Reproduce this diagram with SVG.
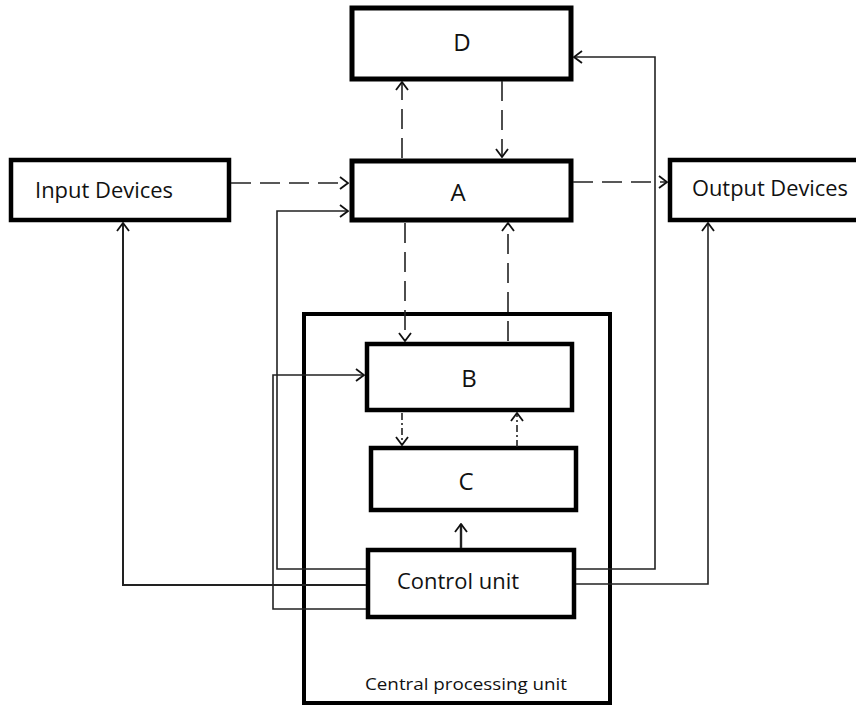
<svg xmlns="http://www.w3.org/2000/svg" width="856" height="707" viewBox="0 0 856 707">
<style>
.box{fill:#fff;stroke:#000;stroke-width:4.5}
.lbl{font-family:"Open Sans","Liberation Sans",sans-serif;font-size:22px;fill:#111}
.big{font-family:"Open Sans","Liberation Sans",sans-serif;font-size:24px;fill:#111;text-anchor:middle}
.small{font-family:"Open Sans","Liberation Sans",sans-serif;font-size:16px;fill:#111}
.c{fill:none;stroke:#222;stroke-width:1.6}
.d{stroke-dasharray:20,9}
.dd{stroke-dasharray:7,3,2,3}
</style>
<defs>
<marker id="ah" markerWidth="10" markerHeight="14" refX="9" refY="7" orient="auto" markerUnits="userSpaceOnUse">
<path d="M1,1 L9,7 L1,13" fill="none" stroke="#111" stroke-width="1.8"/>
</marker>
</defs>
<rect x="0" y="0" width="856" height="707" fill="#fff"/>
<g id="cpu"><rect class="box" x="304" y="314" width="306" height="389" style="stroke-width:4"/><text class="small" x="365" y="690" textLength="202" lengthAdjust="spacingAndGlyphs">Central processing unit</text></g>
<g id="nodeD"><rect class="box" x="352" y="8" width="219" height="71" style="stroke-width:5"/><text class="big" x="462" y="51">D</text></g>
<g id="nodeA"><rect class="box" x="352" y="161" width="219" height="59" style="stroke-width:5"/><text class="big" x="458" y="201">A</text></g>
<g id="input"><rect class="box" x="11" y="160" width="218" height="60"/><text class="lbl" x="35" y="198" textLength="138" lengthAdjust="spacingAndGlyphs">Input Devices</text></g>
<g id="output"><rect class="box" x="670" y="160" width="200" height="60"/><text class="lbl" x="692" y="196" textLength="156" lengthAdjust="spacingAndGlyphs">Output Devices</text></g>
<g id="nodeB"><rect class="box" x="367" y="344" width="205" height="66"/><text class="big" x="469" y="387">B</text></g>
<g id="nodeC"><rect class="box" x="371" y="448" width="205" height="62"/><text class="big" x="466" y="490">C</text></g>
<g id="control"><rect class="box" x="368" y="550" width="206" height="67"/><text class="lbl" x="397" y="589" textLength="122" lengthAdjust="spacingAndGlyphs">Control unit</text></g>
<g id="connectors">
<path class="c d" d="M402,158 V82" marker-end="url(#ah)"/>
<path class="c d" d="M502,81 V157" marker-end="url(#ah)"/>
<path class="c d" d="M231,183 H348" marker-end="url(#ah)"/>
<path class="c d" d="M573,182 H667" marker-end="url(#ah)"/>
<path class="c d" d="M405,223 V341" marker-end="url(#ah)"/>
<path class="c d" d="M508,341 V223" marker-end="url(#ah)"/>
<path class="c dd" d="M402,413 V445" marker-end="url(#ah)"/>
<path class="c dd" d="M517,447 V413" marker-end="url(#ah)"/>
<path class="c" style="stroke-width:2.4" d="M461,548 V524" marker-end="url(#ah)"/>
<path class="c" d="M366,569 H277 V211 H348" marker-end="url(#ah)"/>
<path class="c" d="M366,609 H273 V375 H364" marker-end="url(#ah)"/>
<path class="c" style="stroke-width:2" d="M366,585 H123 V223" marker-end="url(#ah)"/>
<path class="c" d="M576,569 H655 V57 H574" marker-end="url(#ah)"/>
<path class="c" d="M576,584 H708 V223" marker-end="url(#ah)"/>
</g>
</svg>
